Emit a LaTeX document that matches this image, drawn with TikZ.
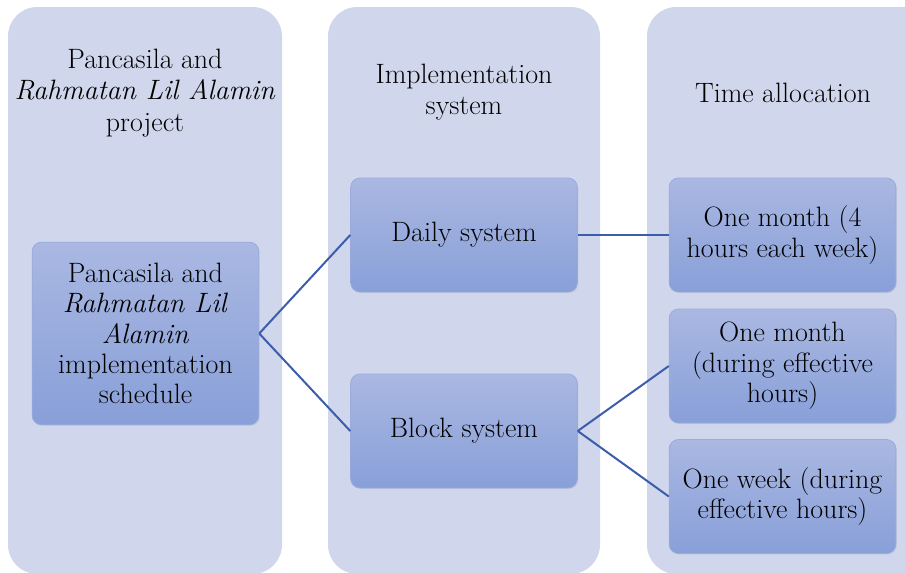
\documentclass[tikz,border=0pt]{standalone}
\usepackage{fontspec}
\usepackage{tikz}
\usetikzlibrary{positioning, shadows}

\definecolor{colbg}{HTML}{D0D6EB}
\definecolor{boxtop}{HTML}{AAB8E2}
\definecolor{boxbot}{HTML}{889FD8}
\definecolor{boxline}{HTML}{9AABDC}
\definecolor{linkblue}{HTML}{3B5DAA}

\tikzset{
  column/.style={fill=colbg, rounded corners=22pt},
  head/.style={align=center, font=\fontsize{21}{23.5}\selectfont},
  box/.style={draw=boxline, line width=0.6pt, rounded corners=7pt,
    top color=boxtop, bottom color=boxbot, align=center,
    minimum width=170pt, minimum height=85.5pt, inner sep=2pt,
    font=\fontsize{21}{22.8}\selectfont,
    drop shadow={opacity=0.12, shadow xshift=0.8pt, shadow yshift=-0.8pt}},
  link/.style={draw=linkblue, line width=1.5pt}
}

\begin{document}
\begin{tikzpicture}[x=0.75pt, y=-0.75pt]
\useasboundingbox (0,0) rectangle (905,572);
\clip (0,0) rectangle (905,572);

% the three columns
\fill[column] (8,7) rectangle (282,574);
\fill[column] (328,7) rectangle (600,574);
\fill[column] (647,7) rectangle (940,574);

\node[head] (head1) at (145,93) {Pancasila and\\ \textit{Rahmatan Lil Alamin}\\ project};
\node[head] (head2) at (464,92) {Implementation\\ system};
\node[head] (head3) at (783,93) {Time allocation};

% level boxes
\node[box, minimum height=137pt] (sched) at (145.5,333.5)
  {Pancasila and\\ \textit{Rahmatan Lil}\\ \textit{Alamin}\\ implementation\\ schedule};
\node[box] (daily) at (464,235) {Daily system};
\node[box] (block) at (464,431) {Block system};
\node[box] (month4) at (782.5,235) {One month (4\\ hours each week)};
\node[box] (monthEff) at (782.5,366) {One month\\ (during effective\\ hours)};
\node[box] (weekEff) at (782.5,496.5) {One week (during\\ effective hours)};

% connectors
\draw[link] (sched.east) -- (daily.west);
\draw[link] (sched.east) -- (block.west);
\draw[link] (daily.east) -- (month4.west);
\draw[link] (block.east) -- (monthEff.west);
\draw[link] (block.east) -- (weekEff.west);
\end{tikzpicture}
\end{document}
